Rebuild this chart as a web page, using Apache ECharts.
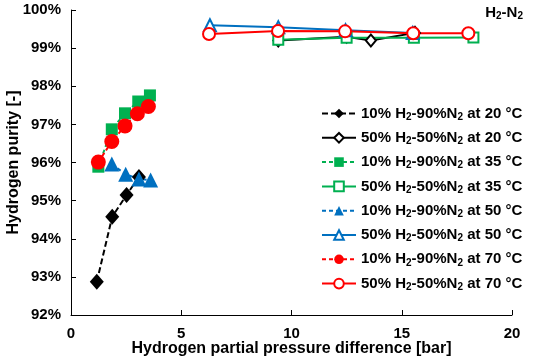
<!DOCTYPE html>
<html><head><meta charset="utf-8">
<script src="https://cdn.jsdelivr.net/npm/echarts@6/dist/echarts.min.js"></script>
<style>html,body{margin:0;padding:0;background:#fff}#c{width:550px;height:358px}</style>
</head><body><div id="c"></div>
<script>
const seriesNames = [
  '10% H2-90%N2 at 20 °C','50% H2-50%N2 at 20 °C',
  '10% H2-90%N2 at 35 °C','50% H2-50%N2 at 35 °C',
  '10% H2-90%N2 at 50 °C','50% H2-50%N2 at 50 °C',
  '10% H2-90%N2 at 70 °C','50% H2-50%N2 at 70 °C'
];
const x10_20 = [1.17, 1.87, 2.52, 3.08];
const y10_20 = [92.87, 94.58, 95.15, 95.62];
const x50_20 = [9.4, 12.5, 13.6, 15.6];
const y50_20 = [99.2, 99.3, 99.2, 99.4];
const x10_35 = [1.24, 1.85, 2.45, 3.05, 3.58];
const y10_35 = [95.89, 96.87, 97.29, 97.6, 97.76];
const x50_35 = [9.4, 12.5, 15.55, 18.25];
const y50_35 = [99.22, 99.27, 99.27, 99.28];
const x10_50 = [1.85, 2.48, 3.08, 3.61];
const y10_50 = [95.96, 95.69, 95.57, 95.54];
const x50_50 = [6.3, 9.4, 12.45, 15.5];
const y50_50 = [99.6, 99.55, 99.47, 99.4];
const x10_70 = [1.24, 1.85, 2.45, 3.01, 3.51];
const y10_70 = [96.01, 96.55, 96.96, 97.28, 97.47];
const x50_70 = [6.26, 9.39, 12.43, 15.52, 18.02];
const y50_70 = [99.37, 99.45, 99.44, 99.39, 99.39];
const xTicks = [0, 5, 10, 15, 20];
const yTicks = [92, 93, 94, 95, 96, 97, 98, 99, 100];

const pairs = (xs, ys) => xs.map((x, i) => [x, ys[i]]);
const BLACK = '#000000', GREEN = '#00b050', BLUE = '#0070c0', RED = '#ff0000';
const FONT = 'Liberation Sans, Arial, sans-serif';

function filled(name, xs, ys, color, symbol, size, dash) {
  return { name, type: 'line', data: pairs(xs, ys), symbol, symbolSize: size,
    itemStyle: { color }, lineStyle: { color, width: 2, type: dash }, z: 3 };
}
function open(name, xs, ys, color, symbol, size) {
  return { name, type: 'line', data: pairs(xs, ys), symbol, symbolSize: size,
    itemStyle: { color, borderColor: color, borderWidth: 2 }, lineStyle: { color, width: 2, type: 'solid' }, z: 3 };
}

const series = [
  filled(seriesNames[0], x10_20, y10_20, BLACK, 'diamond', [14, 16], [6, 3]),
  open(seriesNames[1], x50_20, y50_20, BLACK, 'emptyDiamond', [10, 12]),
  filled(seriesNames[2], x10_35, y10_35, GREEN, 'rect', 12, [4, 3]),
  open(seriesNames[3], x50_35, y50_35, GREEN, 'emptyRect', 10),
  filled(seriesNames[4], x10_50, y10_50, BLUE, 'triangle', 15, [4, 3]),
  open(seriesNames[5], x50_50, y50_50, BLUE, 'emptyTriangle', 12),
  filled(seriesNames[6], x10_70, y10_70, RED, 'circle', 15, [4, 3]),
  open(seriesNames[7], x50_70, y50_70, RED, 'emptyCircle', 12)
];

const rich = {
  a: { fontFamily: FONT, fontWeight: 'bold', fontSize: 15, color: '#000', lineHeight: 18 },
  s: { fontFamily: FONT, fontWeight: 'bold', fontSize: 10, color: '#000', lineHeight: 18, padding: [7, 0, 0, 0] }
};
const sub = s => '{a|' + s.replace(/([HN])2(?!\d)/g, '$1}{s|2}{a|') + '}';

const chart = echarts.init(document.getElementById('c'), null, { renderer: 'canvas' });
chart.setOption({
  animation: false,
  backgroundColor: '#fff',
  title: { text: sub('H2-N2'), right: 27, top: 4, padding: 0, textStyle: { rich } },
  grid: { left: 71, right: 38, top: 10, bottom: 43, containLabel: false, outerBoundsMode: 'none' },
  legend: {
    orient: 'vertical', left: 321, top: 105, padding: 0, itemWidth: 34, itemHeight: 12, itemGap: 7.3,
    data: seriesNames, formatter: sub, textStyle: { rich }, selectedMode: false
  },
  xAxis: {
    type: 'value', min: xTicks[0], max: xTicks[xTicks.length - 1], interval: 5,
    name: 'Hydrogen partial pressure difference [bar]', nameLocation: 'middle', nameGap: 26,
    nameMoveOverlap: false,
    nameTextStyle: { fontFamily: FONT, fontWeight: 'bold', fontSize: 16, color: '#000' },
    axisLine: { lineStyle: { color: '#000', width: 1 } },
    axisTick: { inside: true, length: 5, lineStyle: { color: '#000' } },
    axisLabel: { fontFamily: FONT, fontWeight: 'bold', fontSize: 15, color: '#000', margin: 11 },
    splitLine: { show: false }
  },
  yAxis: {
    type: 'value', min: yTicks[0], max: yTicks[yTicks.length - 1], interval: 1,
    name: 'Hydrogen purity [-]', nameLocation: 'middle', nameGap: 49,
    nameMoveOverlap: false,
    nameTextStyle: { fontFamily: FONT, fontWeight: 'bold', fontSize: 16, color: '#000' },
    axisLine: { show: true, lineStyle: { color: '#000', width: 1 } },
    axisTick: { show: true, inside: true, length: 5, lineStyle: { color: '#000' } },
    axisLabel: { fontFamily: FONT, fontWeight: 'bold', fontSize: 15, color: '#000', margin: 10, formatter: '{value}%' },
    splitLine: { show: false }
  },
  series
});
</script></body></html>
